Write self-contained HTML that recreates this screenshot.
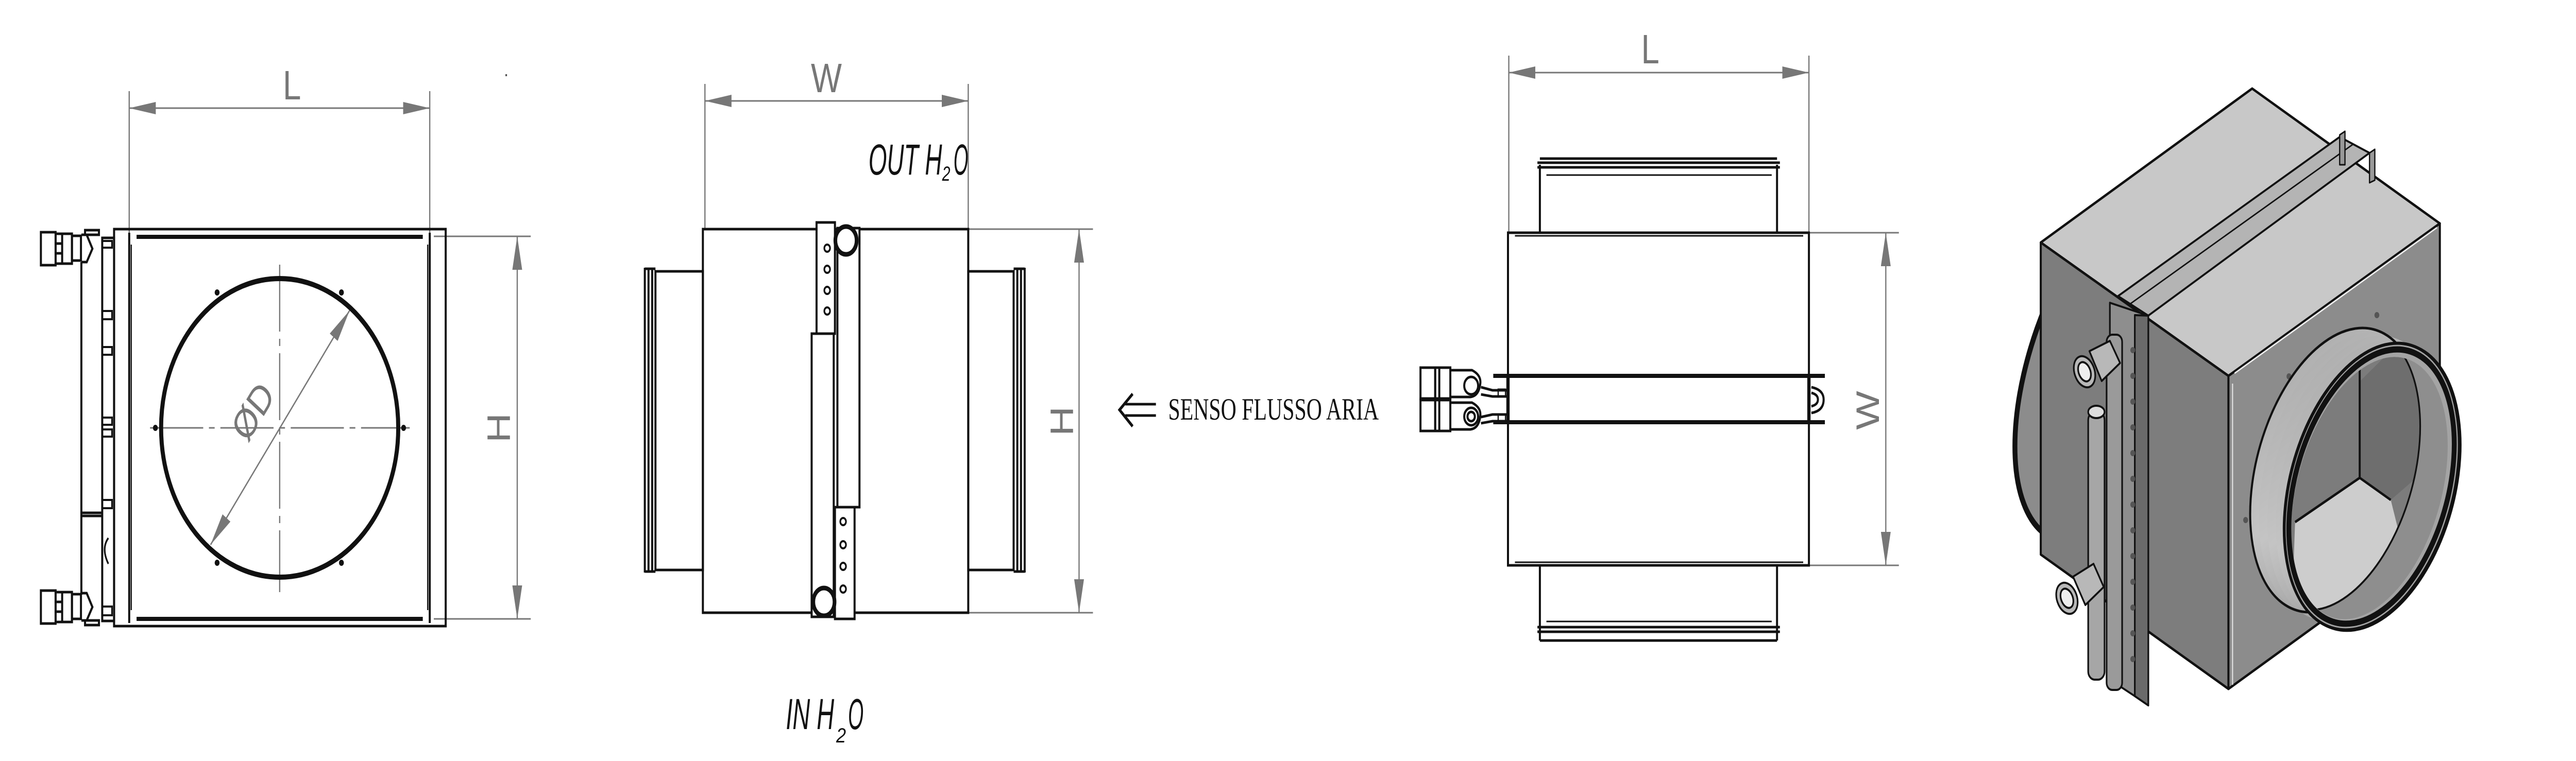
<!DOCTYPE html>
<html><head><meta charset="utf-8"><style>html,body{margin:0;padding:0;background:#fff;overflow:hidden;width:100%;height:100%}svg{display:block;width:100vw;height:100vh}</style></head>
<body>
<svg xmlns="http://www.w3.org/2000/svg" viewBox="0 0 6300 1478" preserveAspectRatio="none">
<defs>
<marker id="ar" viewBox="0 0 65 24" refX="65" refY="12" markerWidth="65" markerHeight="24" markerUnits="userSpaceOnUse" orient="auto-start-reverse"><path d="M0,0 L65,12 L0,24 z" fill="#777"/></marker>
<linearGradient id="cyl" x1="0" y1="0" x2="1" y2="1"><stop offset="0" stop-color="#a8a8a8"/><stop offset="0.5" stop-color="#c4c4c4"/><stop offset="1" stop-color="#8a8a8a"/></linearGradient>
<clipPath id="rimIn"><ellipse cx="5795" cy="948" rx="172" ry="268" transform="rotate(24 5795 948)"/></clipPath>
<clipPath id="baseIn"><ellipse cx="5713" cy="913" rx="186" ry="286" transform="rotate(24 5713 913)"/></clipPath>
</defs>
<rect width="6300" height="1478" fill="#fff"/>

<!-- ============ VIEW 1 ============ -->
<g stroke="#777" stroke-width="3" fill="none">
<line x1="316" y1="177" x2="316" y2="462"/><line x1="1051" y1="177" x2="1051" y2="462"/>
<line x1="316" y1="210" x2="1051" y2="210" marker-start="url(#ar)" marker-end="url(#ar)"/>
<line x1="1061" y1="459" x2="1298" y2="459"/><line x1="1061" y1="1202" x2="1298" y2="1202"/>
<line x1="1265" y1="459" x2="1265" y2="1202" marker-start="url(#ar)" marker-end="url(#ar)"/>
<line x1="367" y1="831" x2="1002" y2="831" stroke-dasharray="130,14,14,14"/>
<line x1="684" y1="514" x2="684" y2="1150" stroke-dasharray="130,14,14,14"/>
<line x1="515" y1="1058" x2="855" y2="603" marker-start="url(#ar)" marker-end="url(#ar)"/>
</g>
<g fill="#777" font-family="Liberation Sans, sans-serif" font-size="80">
<text x="714" y="193" text-anchor="middle">L</text>
<text transform="translate(1247,831) rotate(-90)" text-anchor="middle">H</text>
<text transform="translate(640,815) rotate(-53)" text-anchor="middle" font-size="78">ØD</text>
</g>
<rect x="1236" y="144" width="4" height="4" fill="#555"/>
<g stroke="#111" stroke-width="5" fill="none">
<rect x="279" y="445" width="811" height="771"/>
<line x1="316" y1="452" x2="316" y2="1210"/><line x1="1051" y1="452" x2="1051" y2="1210"/>
<line x1="334" y1="460" x2="1034" y2="460" stroke-width="8"/><line x1="334" y1="1202" x2="1034" y2="1202" stroke-width="8"/>
<line x1="321" y1="475" x2="321" y2="1185" stroke-width="3"/><line x1="1046" y1="475" x2="1046" y2="1185" stroke-width="3"/>
<circle cx="684" cy="831" r="290" stroke-width="10"/>
<rect x="250" y="462" width="29" height="744"/>
<line x1="199" y1="509" x2="199" y2="1155"/>
<line x1="199" y1="996" x2="250" y2="996"/><line x1="199" y1="1002" x2="250" y2="1002"/>
<g stroke-width="4">
<rect x="250" y="468" width="24" height="13"/><rect x="250" y="604" width="24" height="16"/><rect x="250" y="674" width="24" height="15"/>
<rect x="250" y="811" width="24" height="14"/><rect x="250" y="834" width="24" height="14"/><rect x="250" y="971" width="24" height="16"/><rect x="250" y="1178" width="24" height="17"/>
<path d="M265,1045 q-18,20 0,50"/>
</g>
<rect x="100" y="451" width="36" height="64"/><rect x="136" y="454" width="40" height="58"/>
<line x1="152" y1="454" x2="152" y2="512"/><line x1="136" y1="473" x2="152" y2="473"/><line x1="136" y1="492" x2="152" y2="492"/>
<rect x="176" y="458" width="22" height="48"/>
<path d="M199,456 L212,456 L226,483 L212,509 L199,509"/>
<rect x="208" y="447" width="34" height="9"/>
<rect x="100" y="1147" width="36" height="64"/><rect x="136" y="1150" width="40" height="58"/>
<line x1="152" y1="1150" x2="152" y2="1208"/><line x1="136" y1="1169" x2="152" y2="1169"/><line x1="136" y1="1188" x2="152" y2="1188"/>
<rect x="176" y="1154" width="22" height="48"/>
<path d="M199,1152 L212,1152 L226,1179 L212,1205 L199,1205"/>
<rect x="208" y="1205" width="34" height="9"/>
</g>
<g fill="#111"><circle cx="531" cy="568" r="6"/><circle cx="835" cy="568" r="6"/><circle cx="380" cy="831" r="6"/><circle cx="987" cy="831" r="6"/><circle cx="531" cy="1093" r="6"/><circle cx="835" cy="1093" r="6"/></g>

<!-- ============ VIEW 2 ============ -->
<g stroke="#777" stroke-width="3" fill="none">
<line x1="1724" y1="163" x2="1724" y2="445"/><line x1="2368" y1="163" x2="2368" y2="445"/>
<line x1="1724" y1="196" x2="2368" y2="196" marker-start="url(#ar)" marker-end="url(#ar)"/>
<line x1="2368" y1="445" x2="2673" y2="445"/><line x1="2368" y1="1190" x2="2673" y2="1190"/>
<line x1="2639" y1="445" x2="2639" y2="1190" marker-start="url(#ar)" marker-end="url(#ar)"/>
</g>
<g fill="#777" font-family="Liberation Sans, sans-serif" font-size="80">
<text x="2021" y="179" text-anchor="middle">W</text>
<text transform="translate(2624,818) rotate(-90)" text-anchor="middle">H</text>
</g>
<g fill="#111" font-family="Liberation Sans, sans-serif" font-style="italic">
<text x="2124" y="339" font-size="84" textLength="180" lengthAdjust="spacingAndGlyphs">OUT H</text>
<text x="2304" y="351" font-size="40" textLength="20" lengthAdjust="spacingAndGlyphs">2</text>
<text x="2332" y="339" font-size="84" textLength="36" lengthAdjust="spacingAndGlyphs">O</text>
<text x="1922" y="1416" font-size="84" textLength="118" lengthAdjust="spacingAndGlyphs">IN H</text>
<text x="2045" y="1442" font-size="40" textLength="24" lengthAdjust="spacingAndGlyphs">2</text>
<text x="2074" y="1416" font-size="84" textLength="38" lengthAdjust="spacingAndGlyphs">O</text>
</g>
<g stroke="#111" stroke-width="5" fill="none">
<rect x="1719" y="445" width="649" height="745"/>
<rect x="1603" y="527" width="116" height="580"/>
<line x1="1577" y1="520" x2="1577" y2="1112"/><line x1="1586" y1="520" x2="1586" y2="1112"/><line x1="1595" y1="520" x2="1595" y2="1112"/>
<line x1="1577" y1="522" x2="1603" y2="522"/><line x1="1577" y1="1110" x2="1603" y2="1110"/>
<rect x="2368" y="527" width="111" height="580"/>
<line x1="2488" y1="520" x2="2488" y2="1112"/><line x1="2497" y1="520" x2="2497" y2="1112"/><line x1="2506" y1="520" x2="2506" y2="1112"/>
<line x1="2479" y1="522" x2="2506" y2="522"/><line x1="2479" y1="1110" x2="2506" y2="1110"/>
<rect x="1997" y="432" width="45" height="216" fill="#fff"/>
<rect x="2048" y="443" width="54" height="542" fill="#fff"/>
<rect x="1985" y="648" width="54" height="550" fill="#fff"/>
<rect x="2042" y="985" width="48" height="217" fill="#fff"/>
<ellipse cx="2069" cy="467" rx="26" ry="27" stroke-width="9" fill="#fff"/>
<ellipse cx="2015" cy="1169" rx="26" ry="27" stroke-width="9" fill="#fff"/>
<g stroke-width="4">
<circle cx="2023" cy="482" r="7"/><circle cx="2023" cy="523" r="7"/><circle cx="2023" cy="564" r="7"/><circle cx="2023" cy="604" r="7"/>
<circle cx="2062" cy="1013" r="7"/><circle cx="2062" cy="1058" r="7"/><circle cx="2062" cy="1100" r="7"/><circle cx="2062" cy="1144" r="7"/>
</g>
<path d="M2770,765 L2738,796 L2770,828" stroke-width="6"/>
<line x1="2752" y1="785" x2="2827" y2="785"/><line x1="2752" y1="807" x2="2827" y2="807"/>
</g>
<text x="2857" y="815" font-family="Liberation Serif, serif" font-size="60" fill="#111" textLength="515" lengthAdjust="spacingAndGlyphs">SENSO FLUSSO ARIA</text>

<!-- ============ VIEW 3 ============ -->
<g stroke="#777" stroke-width="3" fill="none">
<line x1="3690" y1="108" x2="3690" y2="452"/><line x1="4424" y1="108" x2="4424" y2="452"/>
<line x1="3690" y1="141" x2="4424" y2="141" marker-start="url(#ar)" marker-end="url(#ar)"/>
<line x1="4424" y1="452" x2="4644" y2="452"/><line x1="4424" y1="1098" x2="4644" y2="1098"/>
<line x1="4612" y1="452" x2="4612" y2="1098" marker-start="url(#ar)" marker-end="url(#ar)"/>
</g>
<g fill="#777" font-family="Liberation Sans, sans-serif" font-size="80">
<text x="4036" y="123" text-anchor="middle">L</text>
<text transform="translate(4595,797) rotate(-90)" text-anchor="middle">W</text>
</g>
<g stroke="#111" stroke-width="5" fill="none">
<line x1="3766" y1="320" x2="3766" y2="452"/><line x1="4346" y1="320" x2="4346" y2="452"/>
<line x1="3766" y1="308" x2="4346" y2="308"/><line x1="3760" y1="316" x2="4353" y2="316"/><line x1="3760" y1="325" x2="4353" y2="325"/>
<line x1="3782" y1="340" x2="4333" y2="340" stroke-width="3"/>
<rect x="3688" y="452" width="736" height="646"/>
<line x1="3705" y1="458" x2="4410" y2="458" stroke-width="3"/><line x1="3705" y1="1092" x2="4410" y2="1092" stroke-width="3"/>
<line x1="3766" y1="1098" x2="3766" y2="1244"/><line x1="4346" y1="1098" x2="4346" y2="1244"/>
<line x1="3782" y1="1207" x2="4333" y2="1207" stroke-width="3"/>
<line x1="3760" y1="1218" x2="4353" y2="1218"/><line x1="3760" y1="1227" x2="4353" y2="1227"/><line x1="3766" y1="1244" x2="4346" y2="1244"/>
<line x1="3652" y1="730" x2="4463" y2="730" stroke-width="8"/><line x1="3652" y1="820" x2="4463" y2="820" stroke-width="8"/>
<line x1="3688" y1="730" x2="3688" y2="820" stroke-width="8"/>
<line x1="4424" y1="730" x2="4424" y2="820" stroke-width="8"/>
<path d="M4430,752 q30,5 30,24 q0,22 -30,26"/><path d="M4430,763 q16,3 16,13 q0,10 -16,13"/>
<rect x="3474" y="714" width="36" height="60"/><rect x="3510" y="714" width="37" height="60"/>
<rect x="3474" y="777" width="36" height="60"/><rect x="3510" y="777" width="37" height="60"/>
<line x1="3520" y1="714" x2="3520" y2="837"/>
<path d="M3547,719 L3600,719 q24,10 20,28 q-4,22 -24,24 L3547,771"/>
<path d="M3547,782 L3600,782 q24,10 20,28 q-4,22 -24,24 L3547,834"/>
<circle cx="3598" cy="749" r="17"/><circle cx="3598" cy="809" r="17"/><circle cx="3598" cy="809" r="9"/>
<path d="M3622,752 L3650,758 L3688,758"/><path d="M3622,766 L3650,770 L3688,770"/>
<path d="M3622,810 L3650,805 L3688,805"/><path d="M3622,822 L3650,818 L3688,818"/>
<rect x="3664" y="756" width="18" height="14" stroke-width="3"/><rect x="3664" y="804" width="18" height="14" stroke-width="3"/>
</g>

<!-- ============ VIEW 4 (isometric) ============ -->
<g stroke="#111" stroke-width="5" stroke-linejoin="round">
<ellipse cx="5190" cy="690" rx="210" ry="395" transform="rotate(28 5190 690)" fill="#8c8c8c" stroke-width="12"/>
<polygon points="5508,172 5967,434 5450,730 4991,471" fill="#c8c8c8"/>
<polygon points="4991,471 5450,730 5450,1338 4991,1077" fill="#7d7d7d"/>
<polygon points="5450,730 5967,434 5967,1040 5450,1338" fill="#8c8c8c"/>
<line x1="5460" y1="745" x2="5460" y2="1330" stroke="#ddd" stroke-width="3"/>
<line x1="5465" y1="725" x2="5960" y2="442" stroke="#eee" stroke-width="3"/>
<polygon points="5180,575 5722,266 5795,297 5254,613" fill="#b4b4b4" stroke-width="4"/>
<line x1="5210" y1="590" x2="5755" y2="280" stroke-width="3"/>
<polygon points="5722,262 5735,255 5735,320 5722,320" fill="#999" stroke-width="3"/>
<polygon points="5795,297 5808,290 5808,350 5795,355" fill="#999" stroke-width="3"/>
<polygon points="5160,588 5254,613 5254,1370 5221,1352 5160,1320" fill="#8e8e8e" stroke-width="4"/>
<polygon points="5221,612 5254,613 5254,1370 5221,1352" fill="#6a6a6a" stroke-width="4"/>
<rect x="5152" y="650" width="38" height="690" rx="14" fill="#9a9a9a" stroke-width="4"/>
<rect x="5107" y="800" width="40" height="520" rx="16" fill="#a6a6a6" stroke-width="4"/>
<ellipse cx="5127" cy="800" rx="20" ry="12" fill="#ddd" stroke-width="4"/>
<g fill="#b8b8b8" stroke-width="4">
<polygon points="5110,682 5160,662 5185,705 5140,740"/>
<ellipse cx="5098" cy="722" rx="24" ry="32" transform="rotate(-30 5098 722)"/>
<ellipse cx="5098" cy="722" rx="14" ry="20" transform="rotate(-30 5098 722)" fill="#eee"/>
<polygon points="5070,1120 5120,1095 5145,1140 5100,1175"/>
<ellipse cx="5055" cy="1162" rx="24" ry="32" transform="rotate(-30 5055 1162)"/>
<ellipse cx="5055" cy="1162" rx="14" ry="20" transform="rotate(-30 5055 1162)" fill="#eee"/>
</g>
<g fill="#555" stroke="none">
<circle cx="5216" cy="680" r="6"/><circle cx="5216" cy="730" r="6"/><circle cx="5216" cy="780" r="6"/><circle cx="5216" cy="830" r="6"/><circle cx="5216" cy="880" r="6"/><circle cx="5216" cy="930" r="6"/><circle cx="5216" cy="980" r="6"/><circle cx="5216" cy="1030" r="6"/><circle cx="5216" cy="1080" r="6"/><circle cx="5216" cy="1130" r="6"/><circle cx="5216" cy="1180" r="6"/><circle cx="5216" cy="1230" r="6"/><circle cx="5216" cy="1280" r="6"/>
<circle cx="5813" cy="612" r="6"/><circle cx="5598" cy="731" r="6"/><circle cx="5492" cy="1010" r="6"/>
</g>
<!-- front round flange: cylinder sweep -->
<g stroke="none" fill="url(#cyl)">
<ellipse cx="5713" cy="913" rx="190" ry="290" transform="rotate(24 5713 913)"/>
<ellipse cx="5735" cy="921" rx="191" ry="290" transform="rotate(24 5735 921)"/>
<ellipse cx="5757" cy="929" rx="192" ry="291" transform="rotate(24 5757 929)"/>
<ellipse cx="5779" cy="937" rx="194" ry="291" transform="rotate(24 5779 937)"/>
</g>
<ellipse cx="5713" cy="913" rx="190" ry="290" transform="rotate(24 5713 913)" fill="none" stroke-width="5"/>
<ellipse cx="5800" cy="945" rx="195" ry="292" transform="rotate(24 5800 945)" fill="#a4a4a4" stroke-width="6"/>
<g clip-path="url(#rimIn)" stroke="none">
<rect x="5550" y="600" width="500" height="700" fill="#8e8e8e"/>
<g clip-path="url(#baseIn)">
<rect x="5500" y="580" width="500" height="700" fill="#7c7c7c"/>
<polygon points="5771,741 5771,928 5847,971 5950,900 5950,600" fill="#6e6e6e"/>
<polygon points="5771,928 5613,1014 5600,1300 5950,1300 5847,971" fill="#cdcdcd"/>
<polyline points="5771,700 5771,928 5613,1014" fill="none" stroke="#111" stroke-width="5"/>
<line x1="5771" y1="928" x2="5847" y2="971" stroke="#111" stroke-width="5"/>
</g>
<ellipse cx="5713" cy="913" rx="186" ry="286" transform="rotate(24 5713 913)" fill="none" stroke="#111" stroke-width="4"/>
</g>
<ellipse cx="5800" cy="945" rx="183" ry="280" transform="rotate(24 5800 945)" fill="none" stroke-width="12"/>
<ellipse cx="5803" cy="946" rx="196" ry="293" transform="rotate(24 5803 946)" fill="none" stroke-width="4"/>
</g>
</svg>
</body></html>
